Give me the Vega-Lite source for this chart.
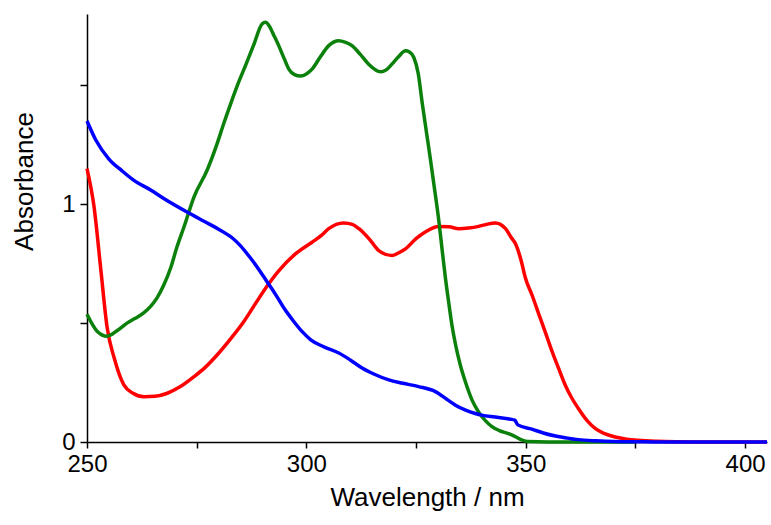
{
  "$schema": "https://vega.github.io/schema/vega-lite/v6.json",
  "autosize": {"type": "none"},
  "width": 680,
  "height": 428,
  "padding": {"left": 87, "top": 14, "right": 4, "bottom": 83},
  "background": "white",
  "config": {
    "view": {"stroke": null},
    "axis": {
      "grid": false,
      "labelFlush": false,
      "labelOverlap": false,
      "domainColor": "black",
      "domainWidth": 1.5,
      "tickColor": "black",
      "tickWidth": 1.5,
      "labelFont": "Liberation Sans",
      "labelFontSize": 24,
      "labelColor": "black",
      "titleFont": "Liberation Sans",
      "titleFontSize": 26,
      "titleFontWeight": "normal",
      "titleColor": "black"
    }
  },
  "datasets": {
    "red": [
      {"x": 250, "y": 1.15}, {"x": 251.6, "y": 0.99}, {"x": 253.1, "y": 0.734}, {"x": 254.6, "y": 0.48},
      {"x": 256.2, "y": 0.353}, {"x": 258.4, "y": 0.24}, {"x": 260.5, "y": 0.205}, {"x": 263, "y": 0.19},
      {"x": 265.5, "y": 0.192}, {"x": 268.3, "y": 0.205}, {"x": 271, "y": 0.23}, {"x": 274.4, "y": 0.275},
      {"x": 277, "y": 0.315}, {"x": 279.7, "y": 0.367}, {"x": 283, "y": 0.44}, {"x": 285.8, "y": 0.508},
      {"x": 288.5, "y": 0.585}, {"x": 291.1, "y": 0.657}, {"x": 293.7, "y": 0.72}, {"x": 297.5, "y": 0.791},
      {"x": 301.3, "y": 0.84}, {"x": 303.5, "y": 0.87}, {"x": 305.1, "y": 0.897}, {"x": 308.5, "y": 0.921},
      {"x": 310.5, "y": 0.915}, {"x": 312, "y": 0.897}, {"x": 314.5, "y": 0.85}, {"x": 316.5, "y": 0.805},
      {"x": 319.5, "y": 0.784}, {"x": 321, "y": 0.795}, {"x": 322.6, "y": 0.812}, {"x": 325, "y": 0.855},
      {"x": 327.1, "y": 0.883}, {"x": 330.2, "y": 0.906}, {"x": 332.5, "y": 0.905}, {"x": 334.7, "y": 0.897},
      {"x": 337, "y": 0.9}, {"x": 339.3, "y": 0.907}, {"x": 341, "y": 0.915}, {"x": 343.1, "y": 0.921},
      {"x": 345.4, "y": 0.897}, {"x": 346.7, "y": 0.86}, {"x": 347.7, "y": 0.833}, {"x": 349, "y": 0.76},
      {"x": 349.9, "y": 0.692}, {"x": 351.5, "y": 0.615}, {"x": 353, "y": 0.537}, {"x": 354.5, "y": 0.46},
      {"x": 356, "y": 0.381}, {"x": 357.5, "y": 0.31}, {"x": 359, "y": 0.24}, {"x": 360.5, "y": 0.185},
      {"x": 362, "y": 0.141}, {"x": 364, "y": 0.09}, {"x": 365.9, "y": 0.056}, {"x": 368, "y": 0.035},
      {"x": 370.4, "y": 0.021}, {"x": 373, "y": 0.012}, {"x": 375.7, "y": 0.007}, {"x": 380, "y": 0.003},
      {"x": 385, "y": 0.001}, {"x": 390, "y": 0}, {"x": 400, "y": 0}, {"x": 405, "y": 0}
    ],
    "green": [
      {"x": 250, "y": 0.537}, {"x": 252.3, "y": 0.466}, {"x": 254.6, "y": 0.445}, {"x": 257, "y": 0.47},
      {"x": 259.2, "y": 0.501}, {"x": 261, "y": 0.52}, {"x": 263, "y": 0.544}, {"x": 264.5, "y": 0.57},
      {"x": 266, "y": 0.607}, {"x": 267.5, "y": 0.66}, {"x": 269.1, "y": 0.734}, {"x": 270.5, "y": 0.82},
      {"x": 272.1, "y": 0.904}, {"x": 274.4, "y": 1.031}, {"x": 277.4, "y": 1.144}, {"x": 279.7, "y": 1.257},
      {"x": 281, "y": 1.33}, {"x": 282.7, "y": 1.42}, {"x": 284.5, "y": 1.51}, {"x": 286.1, "y": 1.582},
      {"x": 288, "y": 1.67}, {"x": 289.9, "y": 1.758}, {"x": 290.7, "y": 1.765}, {"x": 291.5, "y": 1.751},
      {"x": 292.6, "y": 1.71}, {"x": 293.7, "y": 1.667}, {"x": 295, "y": 1.61}, {"x": 296, "y": 1.568},
      {"x": 297.3, "y": 1.545}, {"x": 298.7, "y": 1.539}, {"x": 300, "y": 1.548}, {"x": 301.3, "y": 1.568},
      {"x": 303.2, "y": 1.62}, {"x": 305.1, "y": 1.667}, {"x": 307.4, "y": 1.688}, {"x": 308.8, "y": 1.682},
      {"x": 310.4, "y": 1.667}, {"x": 312.3, "y": 1.63}, {"x": 314.2, "y": 1.589}, {"x": 316.9, "y": 1.557},
      {"x": 318.2, "y": 1.565}, {"x": 319.5, "y": 1.589}, {"x": 321, "y": 1.62}, {"x": 322.6, "y": 1.645},
      {"x": 323.5, "y": 1.64}, {"x": 324.5, "y": 1.617}, {"x": 325.5, "y": 1.55}, {"x": 326.4, "y": 1.427},
      {"x": 327.4, "y": 1.3}, {"x": 328.3, "y": 1.186}, {"x": 329.1, "y": 1.08}, {"x": 330.2, "y": 0.93},
      {"x": 331, "y": 0.8}, {"x": 331.7, "y": 0.69}, {"x": 332.5, "y": 0.58}, {"x": 333.2, "y": 0.49},
      {"x": 334, "y": 0.41}, {"x": 335, "y": 0.33}, {"x": 336.3, "y": 0.25}, {"x": 337.8, "y": 0.175},
      {"x": 339.3, "y": 0.125}, {"x": 340.8, "y": 0.09}, {"x": 342.3, "y": 0.065}, {"x": 344, "y": 0.048},
      {"x": 346.1, "y": 0.035}, {"x": 347.5, "y": 0.024}, {"x": 349.2, "y": 0.008}, {"x": 350.5, "y": 0.002},
      {"x": 355, "y": 0}, {"x": 365, "y": 0}, {"x": 375, "y": 0}
    ],
    "blue": [
      {"x": 250, "y": 1.35}, {"x": 252, "y": 1.27}, {"x": 255, "y": 1.19}, {"x": 258, "y": 1.14},
      {"x": 260.7, "y": 1.1}, {"x": 264.5, "y": 1.06}, {"x": 267.5, "y": 1.024}, {"x": 272.8, "y": 0.967},
      {"x": 277, "y": 0.925}, {"x": 280, "y": 0.895}, {"x": 283, "y": 0.86}, {"x": 285, "y": 0.825},
      {"x": 287, "y": 0.78}, {"x": 289, "y": 0.73}, {"x": 291, "y": 0.675}, {"x": 293, "y": 0.62},
      {"x": 295, "y": 0.56}, {"x": 297, "y": 0.51}, {"x": 299, "y": 0.465}, {"x": 301, "y": 0.43},
      {"x": 304, "y": 0.4}, {"x": 307.4, "y": 0.374}, {"x": 310, "y": 0.345}, {"x": 312.7, "y": 0.311},
      {"x": 315.5, "y": 0.285}, {"x": 318.8, "y": 0.261}, {"x": 322, "y": 0.247}, {"x": 325.6, "y": 0.233},
      {"x": 329.4, "y": 0.212}, {"x": 332, "y": 0.18}, {"x": 334, "y": 0.155}, {"x": 336.3, "y": 0.134},
      {"x": 338.5, "y": 0.12}, {"x": 340, "y": 0.113}, {"x": 343, "y": 0.105}, {"x": 346.5, "y": 0.096},
      {"x": 347.5, "y": 0.092}, {"x": 348.2, "y": 0.072}, {"x": 351.4, "y": 0.054}, {"x": 354, "y": 0.038},
      {"x": 356.8, "y": 0.025}, {"x": 360, "y": 0.015}, {"x": 362, "y": 0.01}, {"x": 366, "y": 0.005},
      {"x": 370, "y": 0.002}, {"x": 375, "y": 0.001}, {"x": 380, "y": 0}, {"x": 390, "y": 0},
      {"x": 400, "y": 0}, {"x": 405, "y": 0}
    ]
  },
  "encoding": {
    "x": {
      "field": "x", "type": "quantitative",
      "scale": {"domain": [250, 405], "nice": false, "zero": false},
      "axis": {
        "title": "Wavelength / nm",
        "values": [250, 275, 300, 325, 350, 375, 400],
        "labelExpr": "datum.value % 50 == 0 ? format(datum.value, 'd') : ''",
        "tickSize": 6,
        "labelPadding": 4,
        "titlePadding": 8
      }
    },
    "y": {
      "field": "y", "type": "quantitative",
      "scale": {"domain": [0, 1.8], "nice": false},
      "axis": {
        "title": "Absorbance",
        "values": [0, 0.5, 1, 1.5],
        "labelExpr": "datum.value == 0 ? '0' : datum.value == 1 ? '1' : ''",
        "tickSize": 7,
        "labelPadding": 5,
        "titlePadding": 24,
        "titleY": 167
      }
    }
  },
  "layer": [
    {"data": {"name": "red"}, "mark": {"type": "line", "color": "#ff0000", "strokeWidth": 3.5, "interpolate": "monotone"}},
    {"data": {"name": "green"}, "mark": {"type": "line", "color": "#0b800b", "strokeWidth": 3.5, "interpolate": "monotone"}},
    {"data": {"name": "blue"}, "mark": {"type": "line", "color": "#0000ff", "strokeWidth": 3.5, "interpolate": "monotone"}}
  ]
}
